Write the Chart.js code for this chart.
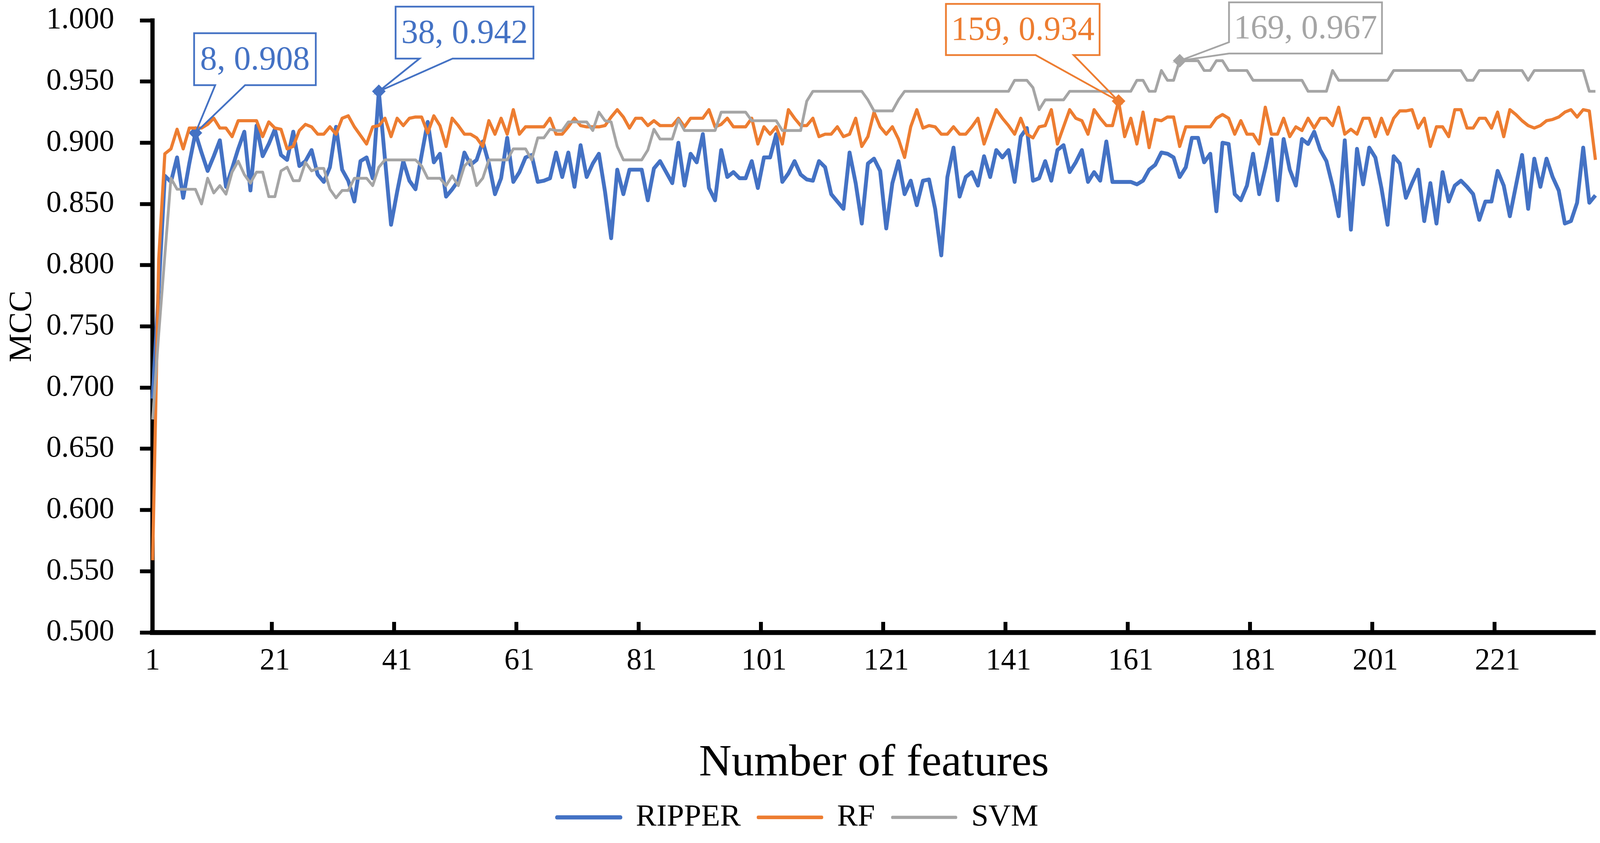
<!DOCTYPE html>
<html>
<head>
<meta charset="utf-8">
<title>MCC vs number of features</title>
<script src="https://cdn.jsdelivr.net/npm/chart.js@4.4.1/dist/chart.umd.min.js"></script>
<style>
  html, body { margin: 0; padding: 0; background: #fff; overflow: hidden; }
  #mcc { position: absolute; left: 0; top: 0; display: block; }
</style>
</head>
<body>
<canvas id="mcc"></canvas>
<script>
// categories: number of selected features
var features = [
    1, 2, 3, 4, 5, 6, 7, 8, 9, 10, 11, 12, 13, 14, 15, 16, 17, 18, 19, 20,
    21, 22, 23, 24, 25, 26, 27, 28, 29, 30, 31, 32, 33, 34, 35, 36, 37, 38, 39, 40,
    41, 42, 43, 44, 45, 46, 47, 48, 49, 50, 51, 52, 53, 54, 55, 56, 57, 58, 59, 60,
    61, 62, 63, 64, 65, 66, 67, 68, 69, 70, 71, 72, 73, 74, 75, 76, 77, 78, 79, 80,
    81, 82, 83, 84, 85, 86, 87, 88, 89, 90, 91, 92, 93, 94, 95, 96, 97, 98, 99, 100,
    101, 102, 103, 104, 105, 106, 107, 108, 109, 110, 111, 112, 113, 114, 115, 116, 117, 118, 119, 120,
    121, 122, 123, 124, 125, 126, 127, 128, 129, 130, 131, 132, 133, 134, 135, 136, 137, 138, 139, 140,
    141, 142, 143, 144, 145, 146, 147, 148, 149, 150, 151, 152, 153, 154, 155, 156, 157, 158, 159, 160,
    161, 162, 163, 164, 165, 166, 167, 168, 169, 170, 171, 172, 173, 174, 175, 176, 177, 178, 179, 180,
    181, 182, 183, 184, 185, 186, 187, 188, 189, 190, 191, 192, 193, 194, 195, 196, 197, 198, 199, 200,
    201, 202, 203, 204, 205, 206, 207, 208, 209, 210, 211, 212, 213, 214, 215, 216, 217, 218, 219, 220,
    221, 222, 223, 224, 225, 226, 227, 228, 229, 230, 231, 232, 233, 234, 235, 236, 237
];

var ripper = [
    0.691, 0.780, 0.873, 0.868, 0.888, 0.855, 0.883, 0.908, 0.892, 0.877,
    0.889, 0.902, 0.864, 0.879, 0.895, 0.909, 0.861, 0.914, 0.889, 0.899,
    0.911, 0.890, 0.886, 0.909, 0.881, 0.885, 0.894, 0.874, 0.868, 0.880,
    0.913, 0.878, 0.869, 0.852, 0.885, 0.888, 0.871, 0.942, 0.887, 0.833,
    0.860, 0.885, 0.869, 0.862, 0.890, 0.917, 0.884, 0.891, 0.856, 0.862,
    0.869, 0.892, 0.882, 0.886, 0.901, 0.883, 0.858, 0.871, 0.904, 0.868,
    0.876, 0.888, 0.890, 0.868, 0.869, 0.871, 0.892, 0.872, 0.892, 0.864,
    0.898, 0.872, 0.883, 0.891, 0.860, 0.822, 0.878, 0.858, 0.878, 0.878,
    0.878, 0.853, 0.879, 0.885, 0.876, 0.867, 0.900, 0.865, 0.891, 0.884,
    0.907, 0.863, 0.853, 0.894, 0.872, 0.876, 0.871, 0.871, 0.885, 0.863,
    0.888, 0.888, 0.907, 0.868, 0.875, 0.885, 0.874, 0.870, 0.869, 0.885,
    0.880, 0.858, 0.852, 0.846, 0.892, 0.867, 0.834, 0.883, 0.887, 0.877,
    0.830, 0.867, 0.885, 0.858, 0.869, 0.849, 0.869, 0.870, 0.846, 0.808,
    0.872, 0.896, 0.856, 0.872, 0.876, 0.865, 0.889, 0.872, 0.894, 0.888,
    0.894, 0.868, 0.905, 0.912, 0.869, 0.871, 0.885, 0.869, 0.894, 0.898,
    0.876, 0.884, 0.894, 0.868, 0.876, 0.869, 0.901, 0.868, 0.868, 0.868,
    0.868, 0.866, 0.869, 0.878, 0.882, 0.892, 0.891, 0.888, 0.872, 0.880,
    0.904, 0.904, 0.884, 0.891, 0.844, 0.900, 0.899, 0.858, 0.853, 0.865,
    0.891, 0.858, 0.879, 0.903, 0.853, 0.903, 0.878, 0.865, 0.903, 0.899,
    0.909, 0.894, 0.885, 0.865, 0.840, 0.902, 0.829, 0.895, 0.866, 0.896,
    0.888, 0.863, 0.833, 0.889, 0.883, 0.855, 0.867, 0.878, 0.836, 0.867,
    0.834, 0.876, 0.852, 0.865, 0.869, 0.864, 0.858, 0.837, 0.852, 0.852,
    0.877, 0.865, 0.840, 0.865, 0.890, 0.846, 0.887, 0.864, 0.887, 0.872,
    0.861, 0.834, 0.836, 0.851, 0.896, 0.851, 0.857
];

var rf = [
    0.559, 0.805, 0.891, 0.895, 0.911, 0.895, 0.912, 0.912, 0.912, 0.915,
    0.920, 0.912, 0.912, 0.905, 0.918, 0.918, 0.918, 0.918, 0.905, 0.917,
    0.912, 0.911, 0.895, 0.897, 0.910, 0.915, 0.913, 0.907, 0.907, 0.913,
    0.907, 0.920, 0.922, 0.913, 0.906, 0.899, 0.913, 0.914, 0.920, 0.905,
    0.920, 0.914, 0.920, 0.921, 0.921, 0.908, 0.922, 0.914, 0.897, 0.920,
    0.914, 0.907, 0.907, 0.904, 0.897, 0.918, 0.907, 0.920, 0.907, 0.927,
    0.907, 0.913, 0.913, 0.913, 0.913, 0.920, 0.907, 0.907, 0.913, 0.920,
    0.914, 0.913, 0.913, 0.913, 0.914, 0.921, 0.927, 0.921, 0.912, 0.920,
    0.920, 0.914, 0.918, 0.914, 0.914, 0.914, 0.920, 0.913, 0.920, 0.920,
    0.920, 0.927, 0.913, 0.915, 0.920, 0.913, 0.913, 0.913, 0.920, 0.899,
    0.913, 0.907, 0.913, 0.899, 0.927, 0.920, 0.914, 0.914, 0.920, 0.905,
    0.907, 0.907, 0.913, 0.905, 0.907, 0.920, 0.897, 0.905, 0.925, 0.913,
    0.907, 0.913, 0.903, 0.888, 0.913, 0.927, 0.912, 0.914, 0.913, 0.907,
    0.907, 0.913, 0.907, 0.907, 0.913, 0.920, 0.899, 0.913, 0.927, 0.920,
    0.914, 0.907, 0.920, 0.907, 0.904, 0.913, 0.914, 0.927, 0.899, 0.913,
    0.927, 0.920, 0.918, 0.907, 0.927, 0.920, 0.914, 0.914, 0.934, 0.905,
    0.920, 0.899, 0.925, 0.896, 0.919, 0.918, 0.921, 0.921, 0.897, 0.913,
    0.913, 0.913, 0.913, 0.913, 0.920, 0.923, 0.920, 0.907, 0.918, 0.907,
    0.907, 0.899, 0.929, 0.907, 0.907, 0.920, 0.905, 0.913, 0.910, 0.920,
    0.912, 0.920, 0.920, 0.914, 0.929, 0.907, 0.911, 0.907, 0.920, 0.920,
    0.905, 0.920, 0.907, 0.920, 0.926, 0.926, 0.927, 0.912, 0.920, 0.897,
    0.913, 0.913, 0.905, 0.927, 0.927, 0.912, 0.912, 0.920, 0.920, 0.912,
    0.925, 0.905, 0.927, 0.923, 0.918, 0.914, 0.912, 0.914, 0.918, 0.919,
    0.921, 0.925, 0.927, 0.921, 0.927, 0.926, 0.886
];

var svm = [
    0.674, 0.744, 0.808, 0.871, 0.862, 0.862, 0.862, 0.862, 0.850, 0.871,
    0.859, 0.865, 0.858, 0.876, 0.885, 0.874, 0.867, 0.876, 0.876, 0.856,
    0.856, 0.877, 0.880, 0.869, 0.869, 0.884, 0.877, 0.879, 0.879, 0.862,
    0.855, 0.861, 0.861, 0.871, 0.871, 0.871, 0.865, 0.880, 0.886, 0.886,
    0.886, 0.886, 0.886, 0.886, 0.881, 0.871, 0.871, 0.871, 0.865, 0.873,
    0.865, 0.881, 0.886, 0.865, 0.871, 0.886, 0.886, 0.886, 0.886, 0.895,
    0.895, 0.895, 0.886, 0.904, 0.904, 0.911, 0.910, 0.910, 0.917, 0.917,
    0.917, 0.917, 0.910, 0.925, 0.918, 0.917, 0.897, 0.886, 0.886, 0.886,
    0.886, 0.894, 0.911, 0.903, 0.903, 0.903, 0.919, 0.910, 0.910, 0.910,
    0.910, 0.910, 0.910, 0.925, 0.925, 0.925, 0.925, 0.925, 0.918, 0.918,
    0.918, 0.918, 0.918, 0.910, 0.910, 0.910, 0.910, 0.934, 0.942, 0.942,
    0.942, 0.942, 0.942, 0.942, 0.942, 0.942, 0.942, 0.935, 0.926, 0.926,
    0.926, 0.926, 0.935, 0.942, 0.942, 0.942, 0.942, 0.942, 0.942, 0.942,
    0.942, 0.942, 0.942, 0.942, 0.942, 0.942, 0.942, 0.942, 0.942, 0.942,
    0.942, 0.951, 0.951, 0.951, 0.945, 0.927, 0.935, 0.935, 0.935, 0.935,
    0.942, 0.942, 0.942, 0.942, 0.942, 0.942, 0.942, 0.942, 0.942, 0.942,
    0.942, 0.951, 0.951, 0.942, 0.942, 0.959, 0.951, 0.951, 0.967, 0.967,
    0.967, 0.967, 0.959, 0.959, 0.967, 0.967, 0.959, 0.959, 0.959, 0.959,
    0.951, 0.951, 0.951, 0.951, 0.951, 0.951, 0.951, 0.951, 0.951, 0.942,
    0.942, 0.942, 0.942, 0.959, 0.951, 0.951, 0.951, 0.951, 0.951, 0.951,
    0.951, 0.951, 0.951, 0.959, 0.959, 0.959, 0.959, 0.959, 0.959, 0.959,
    0.959, 0.959, 0.959, 0.959, 0.959, 0.951, 0.951, 0.959, 0.959, 0.959,
    0.959, 0.959, 0.959, 0.959, 0.959, 0.951, 0.959, 0.959, 0.959, 0.959,
    0.959, 0.959, 0.959, 0.959, 0.959, 0.942, 0.942
];

var seriesNames = ['RIPPER', 'RF', 'SVM'];
var seriesColors = ['#4472C4', '#ED7D31', '#A5A5A5'];

// axis ticks
var xTickLabels = ['1', '21', '41', '61', '81', '101', '121', '141', '161', '181', '201', '221'];
var yMin = 0.5, yMax = 1.0, yStep = 0.05;

// highlighted points: series + data index; box = [left, top, right, bottom] on a 4550x2158 layout
var callouts = [
    { series: 0, index: 7,   box: [552, 85, 898, 218],   side: 'bottom', base: [612, 697] },
    { series: 0, index: 37,  box: [1125, 17, 1517, 150], side: 'bottom', base: [1193, 1287] },
    { series: 1, index: 158, box: [2690, 10, 3127, 141], side: 'bottom', base: [2945, 3053] },
    { series: 2, index: 168, box: [3495, 6, 3930, 137],  side: 'left',   base: [108, 137] }
];

/* the layout was measured on a 4550x2158 picture; scale it to the real viewport */
var W = window.innerWidth || 4550, H = window.innerHeight || 2158;
var sx = W / 4550, sy = H / 2158, sf = Math.min(sx, sy);
function px(v) { return v * sx; }
function py(v) { return v * sy; }
function pf(v) { return v * sf; }

var canvas = document.getElementById('mcc');
canvas.width = W;
canvas.height = H;
canvas.style.width = W + 'px';
canvas.style.height = H + 'px';

var serif = '"Times New Roman", "Liberation Serif", serif';
Chart.defaults.font.family = serif;
Chart.defaults.color = '#000';

function markerRadius(seriesIdx) {
    return function (ctx) {
        for (var i = 0; i < callouts.length; i++) {
            if (callouts[i].series === seriesIdx && callouts[i].index === ctx.dataIndex) return pf(18);
        }
        return 0;
    };
}

var whiteBg = {
    id: 'whiteBg',
    beforeDraw: function (chart) {
        var c = chart.ctx;
        c.save();
        c.fillStyle = '#fff';
        c.fillRect(0, 0, chart.width, chart.height);
        c.restore();
    }
};

/* tick marks on the category axis, pointing up, between categories */
var innerTicks = {
    id: 'innerTicks',
    afterDraw: function (chart) {
        var xs = chart.scales.x, c = chart.ctx, bottom = chart.chartArea.bottom;
        c.save();
        c.strokeStyle = '#000';
        c.lineWidth = pf(11);
        xTickLabels.forEach(function (lab) {
            var i = features.indexOf(Number(lab));
            if (i <= 0) return;
            var x = (xs.getPixelForValue(i - 1) + xs.getPixelForValue(i)) / 2;
            c.beginPath();
            c.moveTo(x, bottom);
            c.lineTo(x, bottom - py(27));
            c.stroke();
        });
        c.restore();
    }
};

/* callout boxes with a wedge to the marked point */
var calloutBoxes = {
    id: 'calloutBoxes',
    afterDraw: function (chart) {
        var c = chart.ctx;
        callouts.forEach(function (co) {
            var pt = chart.getDatasetMeta(co.series).data[co.index];
            var values = chart.data.datasets[co.series].data;
            var color = seriesColors[co.series];
            var x0 = px(co.box[0]), y0 = py(co.box[1]), x1 = px(co.box[2]), y1 = py(co.box[3]);
            c.save();
            c.strokeStyle = color;
            c.lineWidth = pf(5);
            c.lineJoin = 'miter';
            c.beginPath();
            c.moveTo(x0, y0);
            c.lineTo(x1, y0);
            c.lineTo(x1, y1);
            if (co.side === 'bottom') {
                c.lineTo(px(co.base[1]), y1);
                c.lineTo(pt.x, pt.y);
                c.lineTo(px(co.base[0]), y1);
                c.lineTo(x0, y1);
            } else {
                c.lineTo(x0, y1);
                c.lineTo(x0, py(co.base[1]));
                c.lineTo(pt.x, pt.y);
                c.lineTo(x0, py(co.base[0]));
            }
            c.closePath();
            c.stroke();
            c.fillStyle = color;
            c.font = pf(96) + 'px ' + serif;
            c.textAlign = 'center';
            c.textBaseline = 'middle';
            c.fillText(features[co.index] + ', ' + values[co.index].toFixed(3), (x0 + x1) / 2, (y0 + y1) / 2 + py(4));
            c.restore();
        });
    }
};

var widths = [11, 9, 8];
var datasets = [ripper, rf, svm].map(function (vals, k) {
    return {
        label: seriesNames[k],
        data: vals,
        borderColor: seriesColors[k],
        backgroundColor: seriesColors[k],
        borderWidth: pf(widths[k]),
        borderJoinStyle: 'round',
        tension: 0,
        order: 2 - k,
        pointStyle: 'rectRot',
        pointRadius: markerRadius(k),
        pointHoverRadius: 0,
        pointBackgroundColor: seriesColors[k],
        pointBorderColor: seriesColors[k],
        pointBorderWidth: pf(2)
    };
});

var legendPad = px(50), legendFont = pf(88);
var legendH = legendFont + legendPad + 10;
var bottomPad = py(16);

var chart = new Chart(canvas.getContext('2d'), {
    type: 'line',
    data: {
        labels: features.map(String),
        datasets: datasets
    },
    options: {
        responsive: false,
        devicePixelRatio: window.devicePixelRatio || 1,
        animation: false,
        events: [],
        layout: { padding: { top: py(52), right: px(13), bottom: bottomPad, left: 0 } },
        plugins: {
            tooltip: { enabled: false },
            legend: {
                position: 'bottom',
                labels: {
                    boxWidth: px(180),
                    boxHeight: 1,
                    padding: legendPad,
                    color: '#000',
                    font: { size: legendFont },
                    sort: function (a, b) { return a.datasetIndex - b.datasetIndex; }
                }
            }
        },
        scales: {
            x: {
                type: 'category',
                offset: false,
                grid: { display: false, drawTicks: false },
                border: { display: true, color: '#000', width: pf(14) },
                ticks: {
                    autoSkip: false,
                    maxRotation: 0,
                    minRotation: 0,
                    padding: py(27),
                    color: '#000',
                    font: { size: pf(86) },
                    callback: function (value) {
                        var lab = this.getLabelForValue(value);
                        return xTickLabels.indexOf(lab) >= 0 ? lab : '';
                    }
                },
                title: {
                    display: true,
                    text: 'Number of features',
                    color: '#000',
                    font: { size: pf(128) },
                    padding: { top: 0, bottom: -py(16) }
                },
                afterFit: function (scale) {
                    scale.height = H - bottomPad - legendH - py(1619);
                    scale.paddingLeft = 0;
                    scale.paddingRight = 0;
                }
            },
            y: {
                min: yMin,
                max: yMax,
                ticks: {
                    stepSize: yStep,
                    padding: px(73),
                    color: '#000',
                    font: { size: pf(86) },
                    callback: function (v) { return Number(v).toFixed(3); }
                },
                grid: {
                    drawOnChartArea: false,
                    drawTicks: true,
                    tickLength: px(36),
                    tickWidth: pf(11),
                    tickColor: '#000',
                    color: '#000'
                },
                border: { display: true, color: '#000', width: pf(12) },
                title: {
                    display: true,
                    text: 'MCC',
                    color: '#000',
                    font: { size: pf(92) },
                    padding: { top: px(8), bottom: 0 }
                },
                afterFit: function (scale) {
                    scale.width = px(434);
                    scale.paddingTop = 0;
                    scale.paddingBottom = 0;
                }
            }
        }
    },
    plugins: [whiteBg, innerTicks, calloutBoxes]
});
</script>
</body>
</html>
